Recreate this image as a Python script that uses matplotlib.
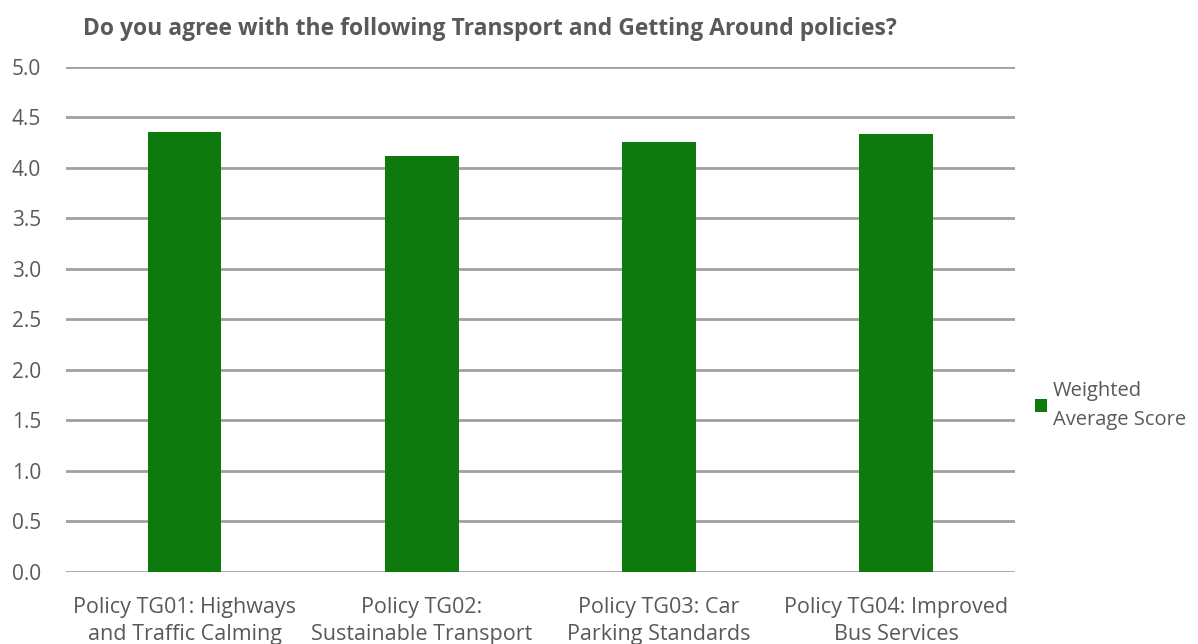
import numpy as np
import matplotlib.pyplot as plt

# ---------- data ----------
categories = ["Policy TG01: Highways\nand Traffic Calming",
              "Policy TG02:\nSustainable Transport",
              "Policy TG03: Car\nParking Standards",
              "Policy TG04: Improved\nBus Services"]
scores = [4.36, 4.12, 4.26, 4.34]
yticks = [0.0, 0.5, 1.0, 1.5, 2.0, 2.5, 3.0, 3.5, 4.0, 4.5, 5.0]

plt.rcParams['font.family'] = ['Open Sans', 'DejaVu Sans']
txt = '#595959'

fig = plt.figure(figsize=(11.98, 6.44), dpi=100)
ax = fig.add_axes([0.0551, 0.112, 0.7919, 0.784])

x = np.arange(len(categories))
ax.bar(x, scores, width=0.31, color='#0e7a0d', label='Weighted\nAverage Score', zorder=3)

ax.set_xlim(-0.5, len(categories) - 0.5)
ax.set_ylim(0, 5)
ax.set_yticks(yticks)
ax.set_yticklabels(['%.1f' % v for v in yticks], color=txt, fontsize=15)
ax.set_xticks(x)
ax.set_xticklabels(categories, color=txt, fontsize=15.5, linespacing=1.4)
ax.tick_params(length=0, pad=18)
ax.tick_params(axis='x', pad=18)
ax.grid(axis='y', color='#a0a0a0', linewidth=2, zorder=0)
for s in ax.spines.values():
    s.set_visible(False)

fig.text(0.069, 0.955, "Do you agree with the following Transport and Getting Around policies?",
         fontsize=16.5, fontweight='bold', color=txt, va='center')

leg = ax.legend(loc='center left', bbox_to_anchor=(1.002, 0.33), frameon=False, fontsize=14.5,
                labelcolor=txt, handlelength=0.6, handleheight=0.6, handletextpad=0.3)
for t in leg.get_texts():
    t.set_linespacing(1.6)

fig.savefig('out.png', dpi=100)
